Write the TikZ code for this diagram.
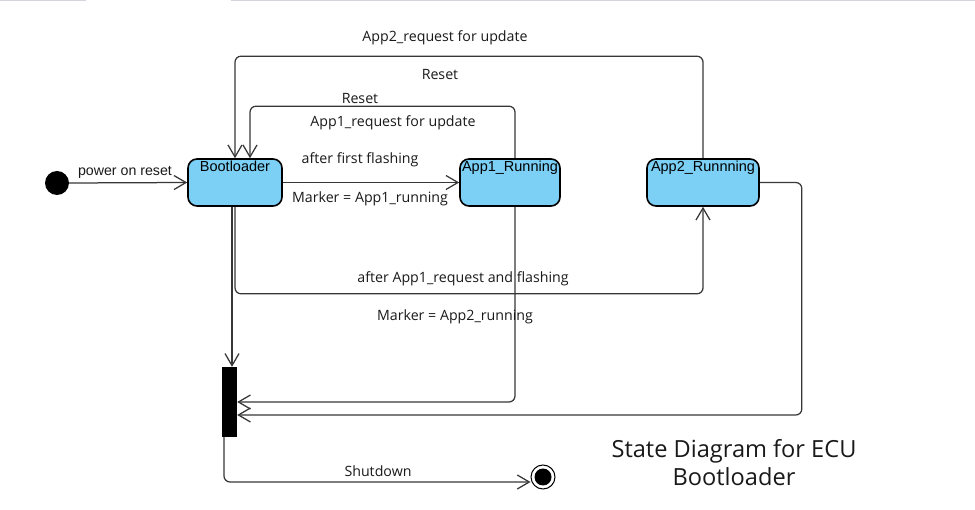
\documentclass[tikz,border=0pt]{standalone}
\usepackage{fontspec}
\setmainfont{Open Sans}
\newfontfamily\nodefont{Liberation Sans}
\usetikzlibrary{arrows.meta}
\definecolor{stfill}{RGB}{124,207,245}
\definecolor{edgec}{RGB}{55,55,55}
\definecolor{txtc}{RGB}{25,25,25}
\definecolor{topc}{RGB}{210,213,220}
\begin{document}
\begin{tikzpicture}[x=1pt,y=-1pt,
  state/.style={draw=black, line width=1.6pt, fill=stfill, rounded corners=9pt, inner sep=0pt, minimum height=47pt},
  stxt/.style={font=\nodefont\fontsize{14.5}{16}\selectfont, text=black, inner sep=0pt},
  lbl/.style={font=\fontsize{14.2}{16}\selectfont, inner sep=0pt, text=txtc},
  arr/.style={draw=edgec, line width=1.25pt, rounded corners=6pt, -{Straight Barb[length=12pt,width=14pt]}}]
\useasboundingbox (0,0) rectangle (975,510);
% top strip
\draw[topc, line width=1pt] (0,1) -- (85,1) -- (85,0);
\draw[topc, line width=1pt] (231,0) -- (231,1) -- (975,1);
% states
\node[state, minimum width=94pt, label={[stxt,anchor=north,yshift=-3pt]north:Bootloader}] (boot) at (235,182.5) {};
\node[state, minimum width=100pt, label={[stxt,anchor=north,yshift=-3pt]north:App1\_Running}] (app1) at (510,182.5) {};
\node[state, minimum width=112pt, label={[stxt,anchor=north,yshift=-3pt]north:App2\_Runnning}] (app2) at (703,182.5) {};
\node[circle, fill=black, minimum size=24pt, inner sep=0pt] (init) at (57,183) {};
\node[fill=black, minimum width=15pt, minimum height=70pt, inner sep=0pt] (fork) at (229.5,402) {};
\node[circle, draw=black, line width=1pt, fill=white, minimum size=24pt, inner sep=0pt] (fin) at (543,477) {};
\node[circle, fill=black, minimum size=17pt, inner sep=0pt] (fincore) at (fin.center) {};
% connectors
\draw[arr] (init.east) -- (boot.west);
\draw[arr] (boot.east) -- (app1.west);
\draw[arr] ([xshift=5pt]app1.north) -- ++(0,-52) -| ([xshift=15pt]boot.north);
\draw[arr] (app2.north) -- ++(0,-102) -| (boot.north);
\draw[arr] (boot.south) -- ++(0,87) -| (app2.south);
\draw[arr] ([xshift=-3pt]boot.south) -- ([xshift=-3pt]boot.south |- fork.north);
\draw[arr] ([xshift=5pt]app1.south) |- (fork.east);
\draw[arr] (app2.east) -- ++(42,0) |- ([yshift=-13pt]fork.east);
\draw[arr] ([xshift=-5.5pt]fork.south) |- ([yshift=-5pt]fin.west);
% labels
\node[lbl, font=\nodefont\fontsize{14.2}{16}\selectfont] (l1) at (125,172) {power on reset};
\node[lbl] (l2) at (360,160) {after first flashing};
\node[lbl] (l3) at (370,199) {Marker = App1\_running};
\node[lbl] (l4) at (360,99) {Reset};
\node[lbl] (l5) at (393,123) {App1\_request for update};
\node[lbl] (l6) at (445,38) {App2\_request for update};
\node[lbl] (l7) at (440,75) {Reset};
\node[lbl] (l8) at (463,279) {after App1\_request and flashing};
\node[lbl] (l9) at (455,317) {Marker = App2\_running};
\node[lbl] (l10) at (378,471) {Shutdown};
\node[font=\fontsize{23.6}{28}\selectfont, align=center, text=txtc, inner sep=0pt] (title) at (734,463) {State Diagram for ECU\\Bootloader};
\end{tikzpicture}
\end{document}
